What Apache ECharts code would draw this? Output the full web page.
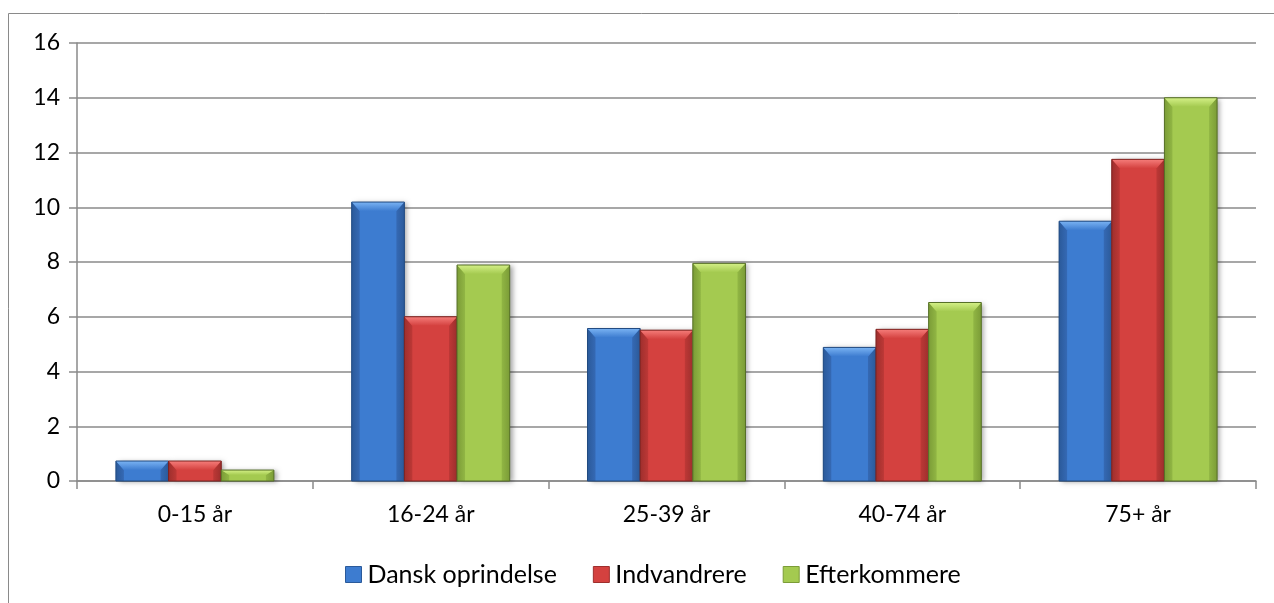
<!DOCTYPE html>
<html>
<head>
<meta charset="utf-8">
<script src="https://cdn.jsdelivr.net/npm/echarts@6/dist/echarts.min.js"></script>
<style>
  html, body { margin: 0; padding: 0; background: #fff; }
  #chart { width: 1274px; height: 603px; }
</style>
</head>
<body>
<div id="chart"></div>
<script>
// Age groups and values per origin group
const categories = ['0-15 år', '16-24 år', '25-39 år', '40-74 år', '75+ år'];
const danskOprindelse = [0.73, 10.19, 5.57, 4.88, 9.49];
const indvandrere = [0.73, 6.0, 5.51, 5.54, 11.75];
const efterkommere = [0.4, 7.89, 7.95, 6.52, 14.0];
const yTicks = { min: 0, max: 16, interval: 2 };

const FONT = 'Lato, "Noto Sans", sans-serif';
const GROUP_SHARE = 0.67;   // share of the category band filled by the three bars

const palette = [
  { name: 'Dansk oprindelse', data: danskOprindelse,
    body: '#3d7cd0', light: '#7ab3f3', side: '#3569b4', dark: '#2b5a9a', border: '#214a80' },
  { name: 'Indvandrere', data: indvandrere,
    body: '#d4413f', light: '#f57d7a', side: '#bd3836', dark: '#9e2f2d', border: '#7c2321' },
  { name: 'Efterkommere', data: efterkommere,
    body: '#a4ca50', light: '#d4f087', side: '#91b644', dark: '#7b9c37', border: '#566f28' }
];

// Bevelled bar: body, lit top face, shaded side faces
function makeRenderItem(p, seriesIdx, count) {
  return function (params, api) {
    const cat = api.value(0);
    const val = api.value(1);
    const base = api.coord([cat, 0]);
    const top = api.coord([cat, val]);
    const band = api.size([1, 0])[0];
    const w = band * GROUP_SHARE / count;
    const x0 = base[0] - band * GROUP_SHARE / 2 + seriesIdx * w;
    const x1 = x0 + w;
    const y0 = top[1];
    const y1 = base[1];
    const h = y1 - y0;
    const b = Math.min(9, h / 2.2);
    const s = Math.min(8, w / 5);
    const children = [
      { type: 'rect', shape: { x: x0, y: y0, width: w, height: h },
        style: { fill: p.body, shadowColor: 'rgba(0,0,0,0.35)', shadowBlur: 5, shadowOffsetX: 3, shadowOffsetY: 1 } },
      { type: 'polygon', shape: { points: [[x0, y0], [x0 + s, y0 + b], [x0 + s, y1], [x0, y1]] },
        style: { fill: new echarts.graphic.LinearGradient(0, 0, 1, 0, [{ offset: 0, color: p.dark }, { offset: 1, color: p.side }]) } },
      { type: 'polygon', shape: { points: [[x1, y0], [x1 - s, y0 + b], [x1 - s, y1], [x1, y1]] },
        style: { fill: new echarts.graphic.LinearGradient(1, 0, 0, 0, [{ offset: 0, color: p.dark }, { offset: 1, color: p.side }]) } },
      { type: 'polygon', shape: { points: [[x0, y0], [x1, y0], [x1 - s, y0 + b], [x0 + s, y0 + b]] },
        style: { fill: new echarts.graphic.LinearGradient(0, 0, 0, 1, [{ offset: 0, color: p.light }, { offset: 1, color: p.body }]) } },
      { type: 'rect', shape: { x: x0, y: y0, width: w, height: h },
        style: { fill: 'none', stroke: p.border, lineWidth: 1 } }
    ];
    return { type: 'group', children: children };
  };
}

const chart = echarts.init(document.getElementById('chart'), null, { renderer: 'canvas' });

chart.setOption({
  animation: false,
  backgroundColor: '#fff',
  graphic: [{
    type: 'rect',
    shape: { x: 8.5, y: 13.5, width: 1400, height: 800 },
    style: { fill: 'none', stroke: '#8a8a8a', lineWidth: 1 },
    silent: true
  }],
  grid: { left: 77, right: 18, top: 43, bottom: 122 },
  legend: {
    top: 557,
    left: 340,
    itemWidth: 16,
    itemHeight: 16,
    itemGap: 36,
    icon: 'rect',
    textStyle: { fontFamily: FONT, fontSize: 25, color: '#000', padding: [0, 0, 0, 1] },
    data: palette.map(p => ({ name: p.name, itemStyle: { color: p.body, borderColor: p.dark, borderWidth: 1 } }))
  },
  xAxis: {
    type: 'category',
    data: categories,
    axisLine: { lineStyle: { color: '#8a8a8a', width: 1.5 } },
    axisTick: { show: true, length: 8, interval: 0, lineStyle: { color: '#8a8a8a', width: 1.5 } },
    axisLabel: { fontFamily: FONT, fontSize: 23, color: '#000', margin: 22 }
  },
  yAxis: {
    type: 'value',
    min: yTicks.min,
    max: yTicks.max,
    interval: yTicks.interval,
    axisLine: { show: true, lineStyle: { color: '#8a8a8a', width: 1.5 } },
    axisTick: { show: true, length: 8, lineStyle: { color: '#8a8a8a', width: 1.5 } },
    axisLabel: { fontFamily: FONT, fontSize: 23, color: '#000', margin: 17 },
    splitLine: { lineStyle: { color: '#8a8a8a', width: 1.5 } }
  },
  series: palette.map((p, i) => ({
    name: p.name,
    type: 'custom',
    itemStyle: { color: p.body },
    encode: { x: 0, y: 1 },
    data: p.data.map((v, k) => [k, v]),
    renderItem: makeRenderItem(p, i, palette.length)
  }))
});
</script>
</body>
</html>
